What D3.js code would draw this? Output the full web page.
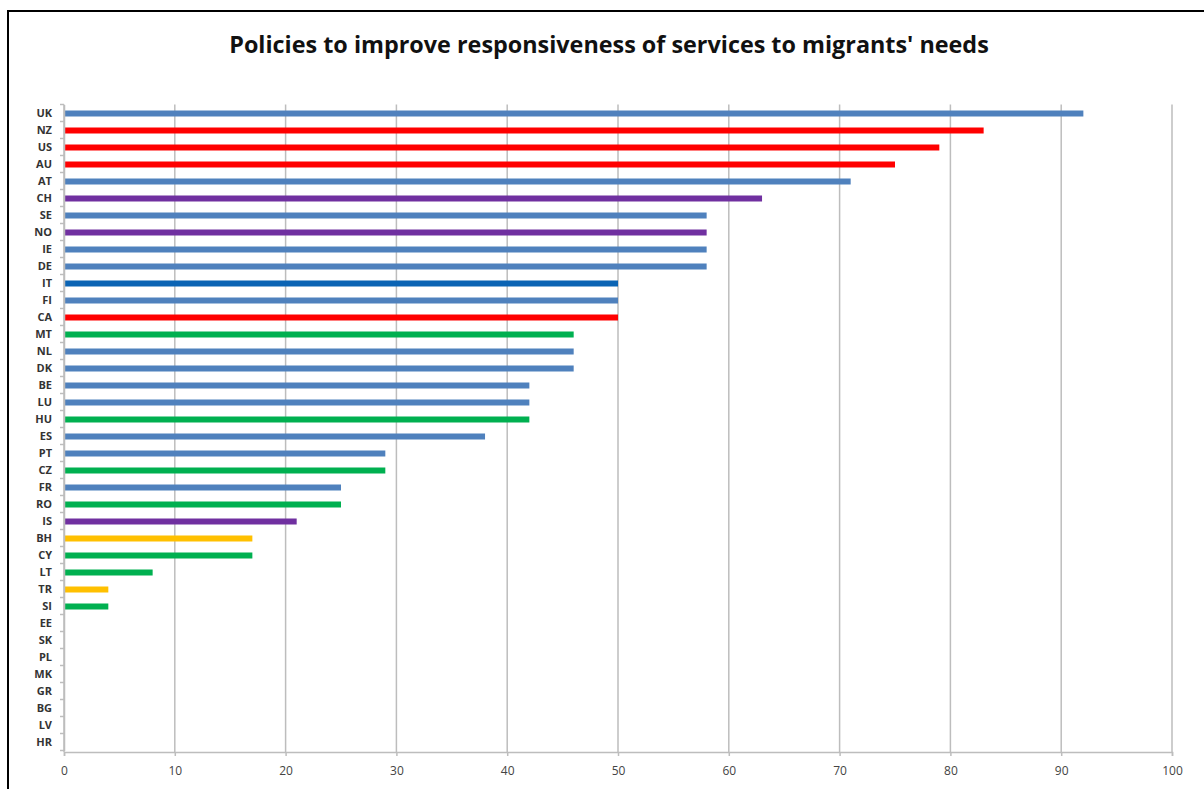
<!DOCTYPE html>
<html>
<head>
<meta charset="utf-8">
<script src="https://cdn.jsdelivr.net/npm/d3@7"></script>
<style>
  html, body { margin: 0; padding: 0; background: #fff; }
  svg { display: block; }
</style>
</head>
<body>
<svg id="chart" width="1204" height="789"></svg>
<script>
// Country codes, top to bottom
const countries = ["UK","NZ","US","AU","AT","CH","SE","NO","IE","DE","IT","FI","CA","MT","NL","DK","BE","LU","HU","ES","PT","CZ","FR","RO","IS","BH","CY","LT","TR","SI","EE","SK","PL","MK","GR","BG","LV","HR"];
// Score per country (0-100)
const scores = [92,83,79,75,71,63,58,58,58,58,50,50,50,46,46,46,42,42,42,38,29,29,25,25,21,17,17,8,4,4,0,0,0,0,0,0,0,0];
// Country group for each bar
const groups = ["eu","imm","imm","imm","eu","efta","eu","efta","eu","eu","it","eu","imm","new","eu","eu","eu","eu","new","eu","eu","new","eu","new","efta","cand","new","new","cand","new","new","new","new","cand","eu","new","new","new"];
const xTicks = [0,10,20,30,40,50,60,70,80,90,100];
const groupColors = { eu: "#4F81BD", it: "#0B64B4", imm: "#FF0000", efta: "#7030A0", new: "#00B050", cand: "#FFC000" };
const title = "Policies to improve responsiveness of services to migrants' needs";

const svg = d3.select("#chart");
const font = "'Open Sans', 'DejaVu Sans', sans-serif";

// Frame around the chart
svg.append("rect")
  .attr("x", 8).attr("y", 11)
  .attr("width", 1260).attr("height", 840)
  .attr("fill", "#fff").attr("stroke", "#000").attr("stroke-width", 2);

const plotLeft = 64, plotRight = 1172, plotTop = 104.5, plotBottom = 750.5;

const x = d3.scaleLinear().domain([0, 100]).range([plotLeft, plotRight]);
const y = d3.scaleBand().domain(countries).range([plotTop, plotBottom]).paddingInner(0);

// Vertical gridlines
svg.append("g").selectAll("line").data(xTicks).join("line")
  .attr("x1", d => x(d)).attr("x2", d => x(d))
  .attr("y1", plotTop).attr("y2", plotBottom + 1.5)
  .attr("stroke", "#BDBDBD").attr("stroke-width", 1.5);

// Bars
const barH = 6;
svg.append("g").selectAll("rect").data(countries).join("rect")
  .attr("x", x(0) + 1)
  .attr("y", (d) => y(d) + y.bandwidth() / 2 - barH / 2 + 0.5)
  .attr("width", (d, i) => Math.max(0, x(scores[i]) - x(0) - 1))
  .attr("height", barH)
  .attr("fill", (d, i) => groupColors[groups[i]]);

// Category axis
const yAxis = svg.append("g")
  .attr("transform", `translate(${plotLeft},0)`)
  .call(d3.axisLeft(y).tickSize(0).tickPadding(12));
yAxis.select(".domain").attr("stroke", "#BDBDBD").attr("stroke-width", 1.5);
yAxis.selectAll("text")
  .attr("font-family", font).attr("font-size", 11).attr("font-weight", "bold")
  .attr("fill", "#333").attr("dy", "0.35em");

// Tick marks between categories
const bounds = countries.map(c => y(c)).concat([plotBottom]);
svg.append("g").selectAll("line").data(bounds).join("line")
  .attr("x1", plotLeft - 4).attr("x2", plotLeft)
  .attr("y1", d => d).attr("y2", d => d)
  .attr("stroke", "#BDBDBD").attr("stroke-width", 1.5);

// Value axis
const xAxis = svg.append("g")
  .attr("transform", `translate(0,${plotBottom + 1.5})`)
  .call(d3.axisBottom(x).tickValues(xTicks).tickSize(4).tickPadding(10));
xAxis.select(".domain").attr("stroke", "#BDBDBD").attr("stroke-width", 1.5);
xAxis.selectAll(".tick line").attr("stroke", "#BDBDBD").attr("stroke-width", 1.5);
xAxis.selectAll("text")
  .attr("font-family", font).attr("font-size", 12).attr("fill", "#444");

// Title
const t = svg.append("text")
  .attr("x", 609).attr("y", 53)
  .attr("text-anchor", "middle")
  .attr("font-family", font).attr("font-weight", "bold").attr("font-size", 22)
  .attr("fill", "#111")
  .text(title);
const w = t.node().getComputedTextLength();
t.attr("font-size", 22 * 760 / w);
</script>
</body>
</html>
